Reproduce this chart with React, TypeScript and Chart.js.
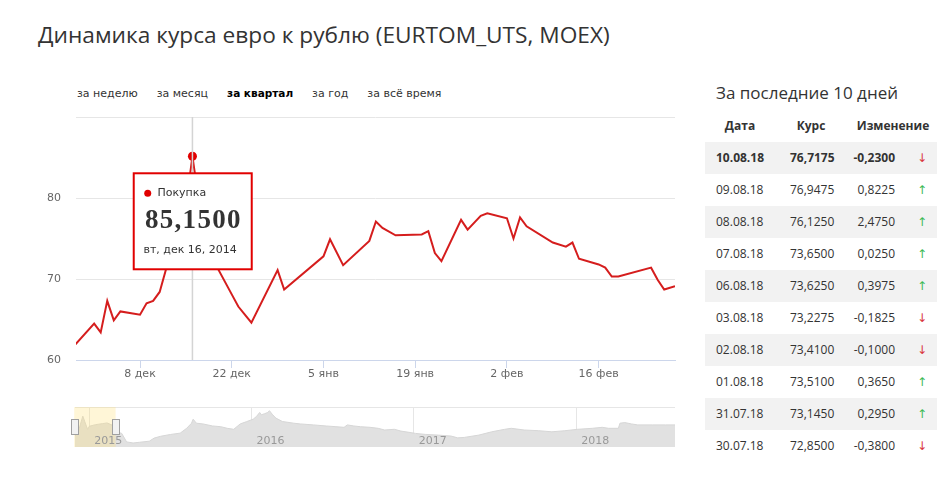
import React, { useEffect, useRef } from "react";
import { Chart, registerables } from "chart.js";

Chart.register(...registerables);

// ---- main chart data (days counted from 8 Dec 2014) ----
const BASE_YEAR = 2014;
const BASE_MONTH = 11; // December (0-based)
const BASE_DAY = 8;
const SERIES_NAME = "Покупка";
const DAYS = [-10, -7, -6, -5, -4, -3, 0, 1, 2, 3, 4, 7, 8, 9, 10, 11, 14, 15, 16, 17, 21, 22, 28, 29, 31, 35, 36, 37, 39, 43, 44, 45, 46, 49, 50, 52, 53, 56, 57, 58, 59, 63, 65, 66, 67, 70, 71, 72, 73, 78, 79, 80, 81.65];
const BUY = [61.8, 64.5, 63.4, 67.3, 64.9, 66.0, 65.6, 67.0, 67.3, 68.4, 71.3, 79.0, 85.15, 79.5, 75.5, 72.6, 68.1, 66.6, 65.6, 64.6, 71.1, 68.7, 72.8, 74.9, 71.7, 74.7, 77.1, 76.3, 75.4, 75.5, 75.9, 73.2, 72.2, 77.3, 76.1, 77.8, 78.1, 77.5, 75.0, 77.6, 76.5, 74.5, 74.0, 74.5, 72.5, 71.8, 71.4, 70.3, 70.3, 71.4, 69.9, 68.7, 69.1];
const X_MIN = -9.77;
const X_MAX = 81.65;
const XTICK_DAYS = [0, 14, 28, 42, 56, 70];
const XTICK_LABELS = ["8 дек", "22 дек", "5 янв", "19 янв", "2 фев", "16 фев"];
const Y_GRID = [60, 70, 80, 90];
const Y_LABELED = [60, 70, 80];
const WEEKDAYS_RU = ["вс", "пн", "вт", "ср", "чт", "пт", "сб"];
const MONTHS_RU = ["янв", "фев", "мар", "апр", "май", "июн", "июл", "авг", "сен", "окт", "ноя", "дек"];

// ---- navigator data (fractional years) ----
const NAV_YEARS = [2014.907, 2014.93, 2014.96, 2014.99, 2015.0, 2015.04, 2015.08, 2015.11, 2015.14, 2015.17, 2015.2, 2015.23, 2015.27, 2015.31, 2015.37, 2015.4, 2015.44, 2015.5, 2015.56, 2015.6, 2015.63, 2015.64, 2015.66, 2015.7, 2015.76, 2015.81, 2015.85, 2015.89, 2015.93, 2015.97, 2016.01, 2016.03, 2016.05, 2016.06, 2016.08, 2016.1, 2016.11, 2016.13, 2016.15, 2016.19, 2016.26, 2016.3, 2016.38, 2016.46, 2016.52, 2016.57, 2016.59, 2016.63, 2016.67, 2016.73, 2016.78, 2016.82, 2016.88, 2016.92, 2016.97, 2017.01, 2017.07, 2017.15, 2017.23, 2017.27, 2017.31, 2017.4, 2017.48, 2017.56, 2017.6, 2017.68, 2017.77, 2017.85, 2017.93, 2018.01, 2018.1, 2018.16, 2018.2, 2018.26, 2018.27, 2018.3, 2018.34, 2018.38, 2018.47, 2018.55, 2018.609];
const NAV_VALUES = [62, 66, 85, 70, 73.7, 75.5, 76.6, 77.4, 75, 67.5, 65.7, 56.2, 55.0, 55.8, 57.0, 60.5, 62.5, 64.5, 66, 71.4, 77.1, 81.6, 77.1, 76.3, 74.0, 73.2, 71.4, 70.3, 76.3, 78.9, 81.6, 84.6, 89.1, 86.5, 87.7, 89.1, 91.1, 86.5, 82.8, 79.0, 77.1, 76.3, 75.2, 74.0, 73.2, 72.5, 75.2, 74.0, 73.2, 72.5, 71.4, 69.5, 70.3, 68.3, 66.9, 65.7, 64.6, 63.8, 62.7, 60.7, 61.2, 63.8, 67.5, 70.3, 71.4, 69.5, 68.7, 67.5, 68.7, 70.3, 71.4, 72.5, 71.4, 71.4, 77.1, 77.8, 76.3, 75.2, 75.2, 75.2, 75.2];
const NAV_X_MIN = 2014.912;
const NAV_X_MAX = 2018.609;
const NAV_Y_MIN = 50.5;
const NAV_Y_MAX = 95.2;
const NAV_YEAR_TICKS = [2015, 2016, 2017, 2018];
const NAV_SEL_START = 2014.907;
const NAV_SEL_END = 2015.162;

// ---- table data ----
const TABLE_DATES = ["10.08.18", "09.08.18", "08.08.18", "07.08.18", "06.08.18", "03.08.18", "02.08.18", "01.08.18", "31.07.18", "30.07.18"];
const TABLE_RATES = [76.7175, 76.9475, 76.125, 73.65, 73.625, 73.2275, 73.41, 73.51, 73.145, 72.85];
const TABLE_CHANGES = [-0.23, 0.8225, 2.475, 0.025, 0.3975, -0.1825, -0.1, 0.365, 0.295, -0.38];

const RANGES = ["за неделю", "за месяц", "за квартал", "за год", "за всё время"];
const ACTIVE_RANGE = 2;

const fmt4 = (v: number) => v.toFixed(4).replace(".", ",");
const PEAK_INDEX = BUY.indexOf(Math.max(...BUY));

function dateLabel(day: number) {
  const d = new Date(BASE_YEAR, BASE_MONTH, BASE_DAY + day);
  return `${WEEKDAYS_RU[d.getDay()]}, ${MONTHS_RU[d.getMonth()]} ${d.getDate()}, ${d.getFullYear()}`;
}

const SANS = "'DejaVu Sans', sans-serif";

const tooltipPlugin = {
  id: "fixedTooltip",
  afterDatasetsDraw(chart: any) {
    const meta = chart.getDatasetMeta(1);
    const pt = meta.data[PEAK_INDEX];
    if (!pt) return;
    const ctx = chart.ctx;
    const px = pt.x;
    const py = pt.y;
    ctx.save();
    const bx = px - 58.7;
    const by = py + 17;
    ctx.fillStyle = "#ffffff";
    ctx.fillRect(bx, by, 118, 96);
    ctx.strokeStyle = "#e10000";
    ctx.lineWidth = 2;
    ctx.strokeRect(bx, by, 118, 96);
    // series dot + name
    ctx.fillStyle = "#e10000";
    ctx.beginPath();
    ctx.arc(px - 44.7, py + 37, 3.5, 0, Math.PI * 2);
    ctx.fill();
    ctx.fillStyle = "#333333";
    ctx.textBaseline = "middle";
    ctx.textAlign = "left";
    ctx.font = `11px ${SANS}`;
    ctx.fillText(SERIES_NAME, px - 35, py + 37);
    // value
    ctx.font = "bold 27px 'Liberation Serif', serif";
    try {
      (ctx as any).letterSpacing = "1.3px";
    } catch (e) {}
    ctx.fillText(fmt4(BUY[PEAK_INDEX]), px - 47.5, py + 65);
    try {
      (ctx as any).letterSpacing = "0px";
    } catch (e) {}
    // date
    ctx.font = `11px ${SANS}`;
    ctx.fillText(dateLabel(DAYS[PEAK_INDEX]), px - 49, py + 94);
    ctx.restore();
  },
};

const navPlugin = {
  id: "navMask",
  afterDatasetsDraw(chart: any) {
    const { ctx, chartArea, scales } = chart;
    const x1 = scales.x.getPixelForValue(NAV_SEL_START);
    const x2 = scales.x.getPixelForValue(NAV_SEL_END);
    ctx.save();
    ctx.fillStyle = "rgba(255, 222, 110, 0.28)";
    ctx.fillRect(x1, chartArea.top, x2 - x1, chartArea.bottom - chartArea.top);
    const cy = chartArea.top + 20;
    for (const hx of [Math.max(x1, chartArea.left), x2]) {
      ctx.fillStyle = "#f2f2f2";
      ctx.strokeStyle = "#a0a0a0";
      ctx.lineWidth = 1;
      ctx.fillRect(Math.round(hx) - 3.5, cy - 7.5, 7, 15);
      ctx.strokeRect(Math.round(hx) - 3.5, cy - 7.5, 7, 15);
    }
    ctx.restore();
  },
};

export default function App() {
  const mainRef = useRef<HTMLCanvasElement>(null);
  const navRef = useRef<HTMLCanvasElement>(null);

  useEffect(() => {
    const mainData = DAYS.map((d, i) => ({ x: d, y: BUY[i] }));
    const main = new Chart(mainRef.current as HTMLCanvasElement, {
      type: "line",
      data: {
        datasets: [
          {
            label: "crosshair",
            data: [
              { x: DAYS[PEAK_INDEX], y: Y_GRID[0] },
              { x: DAYS[PEAK_INDEX], y: Y_GRID[Y_GRID.length - 1] },
            ],
            borderColor: "#d4d4d4",
            borderWidth: 1.5,
            pointRadius: 0,
          },
          {
            label: SERIES_NAME,
            data: mainData,
            borderColor: "#d51d1d",
            borderWidth: 2,
            tension: 0,
            pointRadius: (c: any) => (c.dataIndex === PEAK_INDEX ? 4.5 : 0),
            pointBackgroundColor: "#e10000",
            pointBorderWidth: 0,
          },
        ],
      },
      options: {
        animation: false,
        responsive: false,
        events: [],
        layout: { padding: { top: 117, left: 0, right: 25, bottom: 0 } },
        plugins: { legend: { display: false }, tooltip: { enabled: false } },
        scales: {
          x: {
            type: "linear",
            min: X_MIN,
            max: X_MAX,
            afterFit: (s: any) => {
              s.height = 40;
            },
            afterBuildTicks: (s: any) => {
              s.ticks = XTICK_DAYS.map((v) => ({ value: v }));
            },
            grid: {
              drawOnChartArea: false,
              drawTicks: true,
              tickLength: 8,
              color: "#ccd6eb",
            },
            border: { color: "#ccd6eb" },
            ticks: {
              autoSkip: false,
              maxRotation: 0,
              minRotation: 0,
              padding: 0,
              color: "#666666",
              font: { family: SANS, size: 11 },
              callback: (_v: any, i: number) => XTICK_LABELS[i],
            },
          },
          y: {
            min: Y_GRID[0],
            max: Y_GRID[Y_GRID.length - 1],
            afterFit: (s: any) => {
              s.width = 76;
            },
            afterBuildTicks: (s: any) => {
              s.ticks = Y_GRID.map((v) => ({ value: v }));
            },
            grid: { color: "#e6e6e6", drawTicks: false },
            border: { display: false },
            ticks: {
              padding: 15,
              color: "#666666",
              font: { family: SANS, size: 11 },
              callback: (v: any) => (Y_LABELED.includes(v) ? String(v) : ""),
            },
          },
        },
      },
      plugins: [tooltipPlugin],
    } as any);

    const nav = new Chart(navRef.current as HTMLCanvasElement, {
      type: "line",
      data: {
        datasets: [
          {
            data: NAV_YEARS.map((x, i) => ({ x, y: NAV_VALUES[i] })),
            borderColor: "#d6d6d6",
            borderWidth: 1,
            backgroundColor: "#e1e1e1",
            fill: "start",
            pointRadius: 0,
            tension: 0,
          },
        ],
      },
      options: {
        animation: false,
        responsive: false,
        events: [],
        layout: { padding: { top: 7, left: 75, right: 25, bottom: 0 } },
        plugins: { legend: { display: false }, tooltip: { enabled: false } },
        scales: {
          x: {
            type: "linear",
            min: NAV_X_MIN,
            max: NAV_X_MAX,
            afterFit: (s: any) => {
              s.height = 13;
            },
            afterBuildTicks: (s: any) => {
              s.ticks = NAV_YEAR_TICKS.map((v) => ({ value: v }));
            },
            grid: { color: "#e6e6e6", drawTicks: false },
            border: { display: false },
            ticks: {
              z: 1,
              mirror: true,
              align: "start",
              labelOffset: 5,
              padding: -0.8,
              autoSkip: false,
              maxRotation: 0,
              color: "#999999",
              font: { family: SANS, size: 11 },
              callback: (v: any) => String(v),
            },
          },
          y: {
            min: NAV_Y_MIN,
            max: NAV_Y_MAX,
            afterFit: (s: any) => {
              s.width = 0;
            },
            afterBuildTicks: (s: any) => {
              s.ticks = [{ value: NAV_Y_MAX }];
            },
            grid: { color: "#e6e6e6", drawTicks: false },
            border: { display: false },
            ticks: { display: false },
          },
        },
      },
      plugins: [navPlugin],
    } as any);

    return () => {
      main.destroy();
      nav.destroy();
    };
  }, []);

  const cellFont = "'Open Sans', sans-serif";

  return (
    <div
      style={{
        position: "absolute",
        left: 0,
        top: 0,
        width: 943,
        height: 481,
        background: "#ffffff",
        overflow: "hidden",
        fontFamily: cellFont,
        color: "#333",
      }}
    >
      <div
        style={{
          position: "absolute",
          left: 38,
          top: 19,
          fontSize: 22.7,
          lineHeight: "32px",
          whiteSpace: "nowrap",
          color: "#333",
        }}
      >
        Динамика курса евро к рублю (EURTOM_UTS, MOEX)
      </div>

      <div
        style={{
          position: "absolute",
          left: 77,
          top: 85,
          fontFamily: SANS,
          fontSize: 11,
          lineHeight: "16px",
          whiteSpace: "nowrap",
          color: "#333",
        }}
      >
        {RANGES.map((r, i) => (
          <span
            key={r}
            style={{
              display: "inline-block",
              marginRight: i === ACTIVE_RANGE ? 19 : 19,
              fontWeight: i === ACTIVE_RANGE ? "bold" : "normal",
              fontSize: i === ACTIVE_RANGE ? 10.5 : 11,
              color: i === ACTIVE_RANGE ? "#000" : "#333",
            }}
          >
            {r}
          </span>
        ))}
      </div>

      <canvas
        ref={mainRef}
        width={700}
        height={400}
        style={{ position: "absolute", left: 0, top: 0, width: 700, height: 400 }}
      />
      <canvas
        ref={navRef}
        width={700}
        height={60}
        style={{ position: "absolute", left: 0, top: 400, width: 700, height: 60 }}
      />

      <div
        style={{
          position: "absolute",
          left: 716,
          top: 81,
          fontSize: 17,
          lineHeight: "24px",
          whiteSpace: "nowrap",
          color: "#333",
        }}
      >
        За последние 10 дней
      </div>

      <div style={{ position: "absolute", left: 705, top: 116, width: 232, height: 20, fontSize: 12, fontWeight: "bold", color: "#333" }}>
        <div style={{ position: "absolute", left: 0, width: 70, textAlign: "center", lineHeight: "20px" }}>Дата</div>
        <div style={{ position: "absolute", left: 71, width: 70, textAlign: "center", lineHeight: "20px" }}>Курс</div>
        <div style={{ position: "absolute", left: 148, width: 80, textAlign: "center", lineHeight: "20px" }}>Изменение</div>
      </div>

      {TABLE_DATES.map((d, i) => {
        const ch = TABLE_CHANGES[i];
        return (
          <div
            key={d}
            style={{
              position: "absolute",
              left: 705,
              top: 142 + i * 32,
              width: 232,
              height: 32,
              background: i % 2 === 0 ? "#f2f2f2" : "transparent",
              fontSize: 12,
              fontWeight: i === 0 ? "bold" : "normal",
              color: "#333",
              lineHeight: "32px",
            }}
          >
            <div style={{ position: "absolute", left: 11 }}>{d}</div>
            <div style={{ position: "absolute", left: 85 }}>{fmt4(TABLE_RATES[i])}</div>
            <div style={{ position: "absolute", right: 42, textAlign: "right" }}>{fmt4(ch)}</div>
            <div
              style={{
                position: "absolute",
                left: 212,
                fontFamily: SANS,
                fontWeight: "normal",
                fontSize: 12,
                color: ch < 0 ? "#d9363e" : "#3cba54",
              }}
            >
              {ch < 0 ? "↓" : "↑"}
            </div>
          </div>
        );
      })}
    </div>
  );
}
